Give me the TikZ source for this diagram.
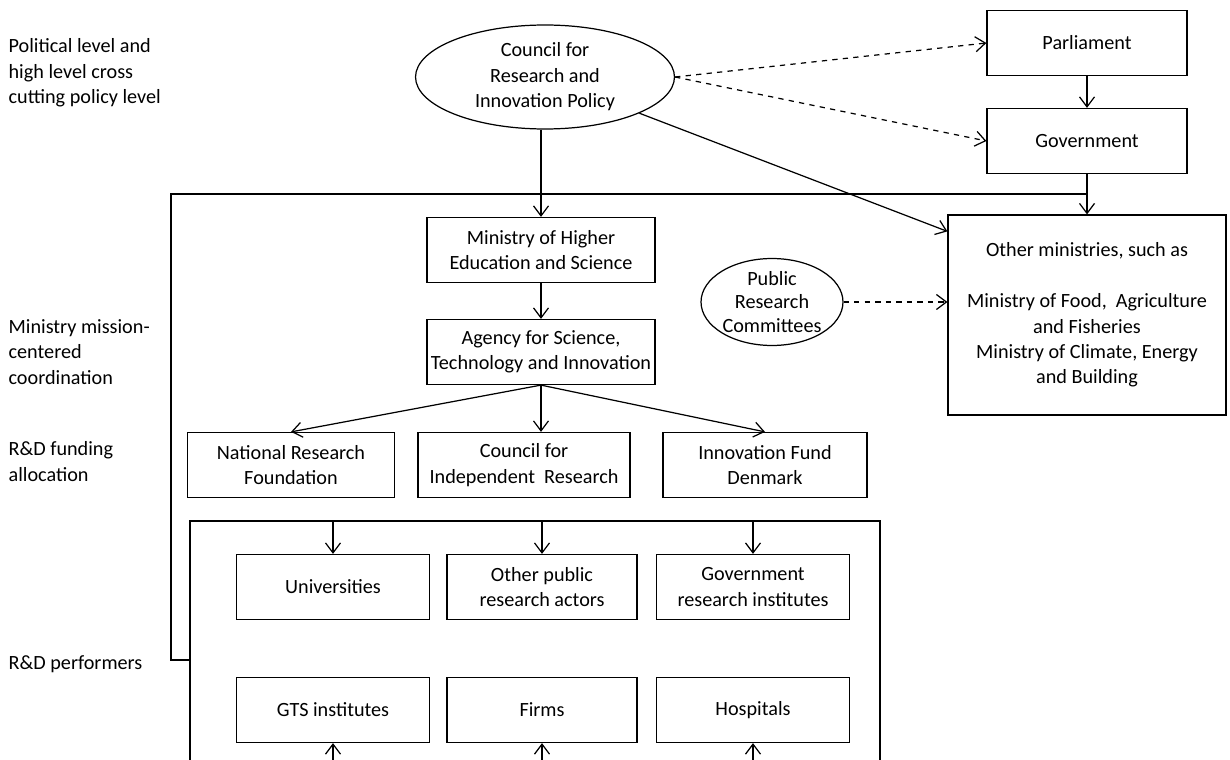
\documentclass[tikz,border=0pt]{standalone}
\usepackage{fontspec}
\setmainfont{Carlito}
\usepackage{tikz}
\usetikzlibrary{calc,positioning,arrows.meta,shapes.geometric}

\begin{document}
\begin{tikzpicture}[x=0.02cm,y=-0.02cm,>={Straight Barb[length=2mm,width=3mm]},
                    line width=0.7pt,font=\fontsize{11.5}{14.5}\selectfont,
                    box/.style={draw,rectangle,align=center,minimum height=1.3cm,inner sep=2pt},
                    oval/.style={draw,ellipse,align=center,inner sep=-0.2cm},
                    lvl/.style={anchor=north west,align=left,inner sep=0pt}]

  \useasboundingbox (0,0) rectangle (1230,760);
  \clip (0,0) rectangle (1230,760);

  % levels on the left
  \node[lvl] (lvl1) at (8,38) {Political level and\\high level cross\\cutting policy level};
  \node[lvl] (lvl2) at (8,319) {Ministry mission-\\centered\\coordination};
  \node[lvl] (lvl3) at (8,441) {R\&D funding\\allocation};
  \node[lvl,anchor=west] (lvl4) at (8,664) {R\&D performers};

  % top
  \node[oval,minimum width=5.18cm,minimum height=2.08cm] (council) at (545,77) {Council for\\Research and\\Innovation Policy};
  \node[box,minimum width=4cm] (parl) at (1087,43) {Parliament};
  \node[box,minimum width=4cm] (gov) at (1087,141) {Government};

  % ministries
  \node[box,minimum width=4.56cm] (mhes) at (541,250) {Ministry of Higher\\Education and Science};
  \node[box,minimum width=4.56cm] (agency) at (541,352) {Agency for Science,\\Technology and Innovation};
  \node[box,minimum width=5.56cm,minimum height=4cm] (othmin) at (1087,315) {Other ministries, such as\\[14.5pt]Ministry of Food,\ \ Agriculture\\and Fisheries\\Ministry of Climate, Energy\\and Building};
  \node[oval,minimum width=2.84cm,minimum height=1.74cm,font=\fontsize{11.5}{13.5}\selectfont] (prc) at (772,302) {Public\\Research\\Committees};

  % funding
  \node[box,minimum width=4.14cm] (nrf) at (291,465) {National Research\\Foundation};
  \node[box,minimum width=4.24cm] (cir) at (524,465) {Council for\\Independent\ \ Research};
  \node[box,minimum width=4.08cm] (ifd) at (765,465) {Innovation Fund\\Denmark};

  % performers
  \node[draw,minimum width=13.8cm,minimum height=5.4cm] (perf) at (535,656) {};
  \node[box,minimum width=3.86cm] (univ) at (333,587) {Universities};
  \node[box,minimum width=3.8cm] (opra) at (542,587) {Other public\\research actors};
  \node[box,minimum width=3.86cm] (gri) at (753,587) {Government\\research institutes};
  \node[box,minimum width=3.86cm] (gts) at (333,710) {GTS institutes};
  \node[box,minimum width=3.8cm] (firms) at (542,710) {Firms};
  \node[box,minimum width=3.86cm] (hosp) at (753,710) {Hospitals};

  \draw[->,dashed] (council.east) -- (parl.west);
  \draw[->,dashed] (council.east) -- (gov.west);
  \draw[->,dashed] (prc.east) -- (prc.east -| othmin.west);

  \draw[->] (council.south -| mhes.north) -- (mhes.north);
  \draw[->] (parl) -- (gov);
  \draw[->] (council) -- ($(othmin.north west)+(0,17)$);
  \draw[->] (gov.south) -- (gov.south |- othmin.north);
  \draw (gov.south) ++(0,20) -| (171,660) -- (perf.west |- 171,660);
  \draw[->] (mhes) -- (agency);
  \draw[->] (agency.south) -- (nrf.north);
  \draw[->] (agency.south) -- (agency.south |- cir.north);
  \draw[->] (agency.south) -- (ifd.north);

  \foreach \n in {univ,opra,gri}
    \draw[->] (\n.north |- perf.north) -- (\n.north);
  \foreach \n in {gts,firms,hosp}
    \draw[->] (\n.south |- perf.south) -- (\n.south);
\end{tikzpicture}
\end{document}
